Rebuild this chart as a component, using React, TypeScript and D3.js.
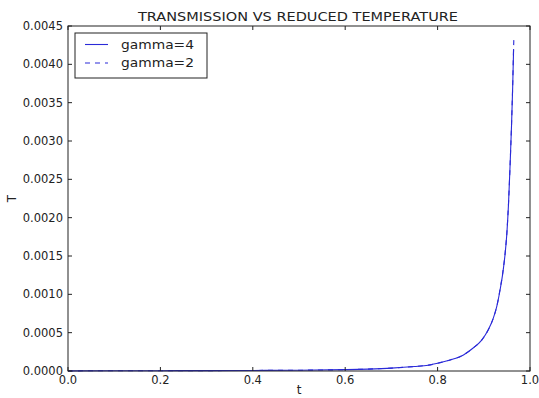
import React from "react";
import * as d3 from "d3";

const title = "TRANSMISSION VS REDUCED TEMPERATURE";
const xTicks = [0.0, 0.2, 0.4, 0.6, 0.8, 1.0];
const yTicks = [0, 0.0005, 0.001, 0.0015, 0.002, 0.0025, 0.003, 0.0035, 0.004, 0.0045];

const t4 = [0.0, 0.1, 0.2, 0.3, 0.4, 0.5, 0.6, 0.65, 0.7, 0.75, 0.78, 0.8, 0.827, 0.856, 0.877, 0.895, 0.91, 0.9206, 0.928, 0.935, 0.941, 0.946, 0.95, 0.9535, 0.957, 0.96, 0.9625, 0.9645];
const T4 = [0.000002, 0.000003, 0.000004, 0.000005, 0.000007, 0.00001, 0.000018, 0.000025, 0.000037, 0.000058, 0.000076, 0.0001, 0.000143, 0.00021, 0.0003, 0.0004, 0.00054, 0.00069, 0.00084, 0.00105, 0.00127, 0.00152, 0.0018, 0.00218, 0.0027, 0.0032, 0.0037, 0.0042];
const t2 = [0.0, 0.1, 0.2, 0.3, 0.4, 0.5, 0.6, 0.65, 0.7, 0.75, 0.78, 0.8, 0.827, 0.856, 0.877, 0.895, 0.91, 0.9206, 0.928, 0.935, 0.941, 0.946, 0.95, 0.9535, 0.957, 0.96, 0.9625, 0.9645, 0.9652];
const T2 = [0.000002, 0.000003, 0.000004, 0.000005, 0.000007, 0.00001, 0.000018, 0.000025, 0.000038, 0.000059, 0.000077, 0.0001, 0.000144, 0.00021, 0.0003, 0.0004, 0.00054, 0.00069, 0.00084, 0.00106, 0.00128, 0.00153, 0.00181, 0.00219, 0.0027, 0.00321, 0.00372, 0.00422, 0.00436];
const seriesNames = ["gamma=4", "gamma=2"];

const W = 539, H = 398;
const L = 68, R = 530, T = 26, B = 371;
const font = "'DejaVu Sans', sans-serif";
const ink = "#222";
const blue = "#2a2ad8";

export default function App() {
  const x = d3.scaleLinear().domain([0, 1]).range([L, R]);
  const y = d3.scaleLinear().domain([0, 0.0045]).range([B, T]);
  const mk = (ts: number[], vs: number[]) =>
    d3.line<number>().x((d) => x(d)).y((_, i) => y(vs[i])).curve(d3.curveMonotoneX)(ts) || "";
  const tick = 4;
  return (
    <svg width={W} height={H} style={{ position: "absolute", left: 0, top: 0, background: "#fff" }}>
      <rect x={0} y={0} width={W} height={H} fill="#fff" />
      <path d={mk(t4, T4)} fill="none" stroke={blue} strokeWidth={1.1} />
      <path d={mk(t2, T2)} fill="none" stroke={blue} strokeWidth={1.1} strokeDasharray="5,5" />
      <rect x={L} y={T} width={R - L} height={B - T} fill="none" stroke={ink} strokeWidth={1} />
      {xTicks.map((v) => (
        <g key={"x" + v}>
          <line x1={x(v)} x2={x(v)} y1={B} y2={B - tick} stroke={ink} />
          <line x1={x(v)} x2={x(v)} y1={T} y2={T + tick} stroke={ink} />
          <text x={x(v)} y={B + 13} fontSize={11.5} fontFamily={font} textAnchor="middle" fill={ink}>
            {v.toFixed(1)}
          </text>
        </g>
      ))}
      {yTicks.map((v) => (
        <g key={"y" + v}>
          <line x1={L} x2={L + tick} y1={y(v)} y2={y(v)} stroke={ink} />
          <line x1={R} x2={R - tick} y1={y(v)} y2={y(v)} stroke={ink} />
          <text x={L - 5} y={y(v) + 4} fontSize={11.5} fontFamily={font} textAnchor="end" fill={ink}>
            {v.toFixed(4)}
          </text>
        </g>
      ))}
      <text x={138} y={20.5} fontSize={12.5} fontFamily={font} textLength={320} lengthAdjust="spacingAndGlyphs" fill={ink}>
        {title}
      </text>
      <text x={(L + R) / 2} y={394} fontSize={12} fontFamily={font} textAnchor="middle" fill={ink}>t</text>
      <text transform={`translate(16,${(T + B) / 2}) rotate(-90)`} fontSize={12} fontFamily={font} textAnchor="middle" fill={ink}>T</text>
      <rect x={75} y={33} width={132} height={45} fill="#fff" stroke={ink} strokeWidth={1} />
      {seriesNames.map((n, i) => (
        <g key={n}>
          <line x1={85} x2={108} y1={44.5 + i * 18.5} y2={44.5 + i * 18.5} stroke={blue} strokeWidth={1.1} strokeDasharray={i === 1 ? "5,5" : undefined} />
          <text x={121} y={48.5 + i * 18.5} fontSize={13} textLength={73} lengthAdjust="spacingAndGlyphs" fontFamily={font} fill={ink}>{n}</text>
        </g>
      ))}
    </svg>
  );
}
